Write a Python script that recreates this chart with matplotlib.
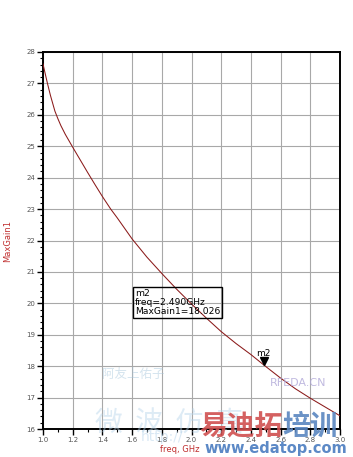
import matplotlib
matplotlib.use("Agg")

import numpy as np
import matplotlib.pyplot as plt
from matplotlib import transforms
from matplotlib.ticker import MultipleLocator

# frequency sweep (GHz) and MaxGain1 (dB)
freq = [1.00, 1.01, 1.03, 1.05, 1.08, 1.10, 1.12, 1.15, 1.20, 1.25, 1.30, 1.35,
        1.40, 1.456, 1.50, 1.60, 1.70, 1.80, 1.90, 2.00, 2.10, 2.20,
        2.30, 2.40, 2.49, 2.60, 2.70, 2.80, 2.90, 3.00]
max_gain = [27.62, 27.41, 27.00, 26.62, 26.12, 25.88, 25.66, 25.38, 24.97, 24.57, 24.17, 23.78,
            23.40, 23.00, 22.72, 22.05, 21.47, 20.95, 20.45, 19.98, 19.53, 19.10,
            18.72, 18.37, 18.026, 17.62, 17.28, 16.98, 16.70, 16.42]

marker_name = "m2"
marker_freq = 2.490
marker_gain = 18.026

x_ticks = [1.0, 1.2, 1.4, 1.6, 1.8, 2.0, 2.2, 2.4, 2.6, 2.8, 3.0]
y_ticks = [16, 17, 18, 19, 20, 21, 22, 23, 24, 25, 26, 27, 28]

fig = plt.figure(figsize=(3.53, 4.57), dpi=100)
ax = fig.add_axes([43 / 353, 1 - 429 / 457, 297 / 353, 377 / 457])

ax.plot(freq, max_gain, color="#8b1a1a", lw=0.75, zorder=3)

ax.set_xlim(1.0, 3.0)
ax.set_ylim(16, 28)
ax.set_xticks(x_ticks)
ax.set_xticklabels([f"{v:.1f}" for v in x_ticks])
ax.set_yticks(y_ticks)
ax.xaxis.set_minor_locator(MultipleLocator(0.1))
ax.yaxis.set_minor_locator(MultipleLocator(0.2))
ax.grid(True, which="major", color="#a8a8a8", lw=0.8)
ax.tick_params(which="major", direction="out", length=4, width=1.0,
               labelsize=5, labelcolor="#555555", pad=1.5)
ax.tick_params(which="minor", direction="out", length=2.5, width=0.8)
for s in ax.spines.values():
    s.set_linewidth(1.4)
    s.set_color("black")

ax.set_ylabel("MaxGain1", color="#c03030", fontsize=6, labelpad=10)
ax.set_xlabel("freq, GHz", color="#c03030", fontsize=6)
ax.xaxis.set_label_coords(0.46, -0.042)

# marker
trans = transforms.offset_copy(ax.transData, fig=fig, y=3, units="points")
ax.plot([marker_freq], [marker_gain], marker="v", color="black",
        markersize=6, transform=trans, zorder=4, clip_on=False)
ax.annotate(marker_name, xy=(marker_freq, marker_gain), xytext=(-6, 7),
            textcoords="offset points", fontsize=6.5, color="black")

ax.text(1.62, 19.60,
        f"{marker_name}\nfreq={marker_freq:.3f}GHz\nMaxGain1={marker_gain:.3f}",
        fontsize=6.6, color="black", va="bottom", ha="left", linespacing=1.0,
        bbox=dict(boxstyle="square,pad=0.2", fc="none", ec="black", lw=1.0),
        zorder=5)

# watermarks from the source image
cjk = ["Noto Sans CJK SC", "DejaVu Sans"]
fig.text(0.29, 0.172, "阿友上佑子", fontsize=9, color="#a9c8dd", alpha=0.5, family=cjk)
fig.text(0.27, 0.055, "微  波  仿  真", fontsize=20, color="#b5d3ea", alpha=0.45, family=cjk)
fig.text(0.40, 0.035, "http://", fontsize=10, color="#b5d3ea", alpha=0.5)
fig.text(0.765, 0.155, "RFEDA.CN", fontsize=8, color="#b0a8d8", alpha=0.8)
fig.text(0.565, 0.048, "易迪拓", fontsize=20, color="#d05050", fontweight="bold",
         alpha=0.9, family=cjk)
fig.text(0.80, 0.048, "培训", fontsize=20, color="#5a86c0", fontweight="bold",
         alpha=0.9, family=cjk)
fig.text(0.58, 0.008, "www.edatop.com", fontsize=10.5, color="#4a7cc0",
         fontweight="bold", alpha=0.9)

fig.savefig("out.png", dpi=100)
